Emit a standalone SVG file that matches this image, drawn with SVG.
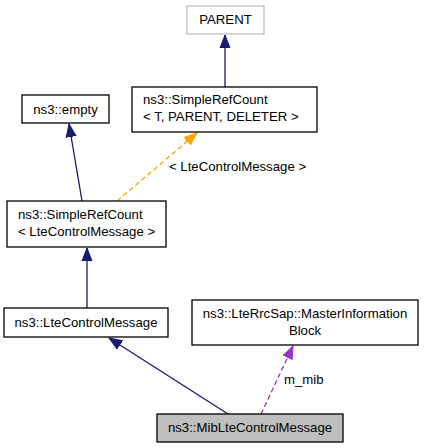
<svg xmlns="http://www.w3.org/2000/svg" width="424" height="448" viewBox="0 0 424 448">
<style>
text{font-family:"Liberation Sans",Arial,sans-serif;font-size:13.2px;fill:#000}
.box{fill:#fff;stroke:#000;stroke-width:1.3}
.gray{fill:#fff;stroke:#bfbfbf;stroke-width:1.3}
.cur{fill:#bfbfbf;stroke:#000;stroke-width:1.3}
.e{fill:none;stroke-width:1.3}
.blue{stroke:#191970}
.orange{stroke:#ffa500;stroke-dasharray:5,3}
.purple{stroke:#9a32cd;stroke-dasharray:5,3}
.m{text-anchor:middle}
</style>
<defs>
<marker id="ab" markerUnits="userSpaceOnUse" markerWidth="14" markerHeight="12" refX="13" refY="5" orient="auto" viewBox="0 0 14 10"><path d="M0,0 L13,5 L0,10 z" fill="#191970" stroke="#191970"/></marker>
<marker id="ao" markerUnits="userSpaceOnUse" markerWidth="14" markerHeight="12" refX="13" refY="5" orient="auto" viewBox="0 0 14 10"><path d="M0,0 L13,5 L0,10 z" fill="#ffa500" stroke="#ffa500"/></marker>
<marker id="ap" markerUnits="userSpaceOnUse" markerWidth="14" markerHeight="12" refX="13" refY="5" orient="auto" viewBox="0 0 14 10"><path d="M0,0 L13,5 L0,10 z" fill="#9a32cd" stroke="#9a32cd"/></marker>
</defs>
<g id="connectors">
<path class="e blue" d="M225,87 L225,35" marker-end="url(#ab)"/>
<path class="e blue" d="M82,201 L69,124" marker-end="url(#ab)"/>
<path class="e orange" d="M117,201 L197,133" marker-end="url(#ao)"/>
<text x="169" y="171">&lt; LteControlMessage &gt;</text>
<path class="e blue" d="M87,308 L87,248" marker-end="url(#ab)"/>
<path class="e blue" d="M228,414 L109,338" marker-end="url(#ab)"/>
<path class="e purple" d="M261,414 L293,346" marker-end="url(#ap)"/>
<text x="284" y="384">m_mib</text>
</g>
<g id="node-parent">
<rect class="gray" x="187" y="6" width="77" height="28"/>
<text class="m" x="225.5" y="24">PARENT</text>
</g>
<g id="node-simplerefcount-t">
<rect class="box" x="132" y="87" width="185" height="45"/>
<text x="143" y="104">ns3::SimpleRefCount</text>
<text x="143" y="121">&lt; T, PARENT, DELETER &gt;</text>
</g>
<g id="node-empty">
<rect class="box" x="22" y="95" width="87" height="28"/>
<text class="m" x="65.5" y="114">ns3::empty</text>
</g>
<g id="node-simplerefcount-lte">
<rect class="box" x="7" y="201" width="159" height="46"/>
<text x="18" y="219">ns3::SimpleRefCount</text>
<text x="18" y="236">&lt; LteControlMessage &gt;</text>
</g>
<g id="node-ltecontrolmessage">
<rect class="box" x="4" y="308" width="164" height="29"/>
<text class="m" x="86" y="327">ns3::LteControlMessage</text>
</g>
<g id="node-mib-struct">
<rect class="box" x="192" y="300" width="226" height="45"/>
<text class="m" x="305" y="318">ns3::LteRrcSap::MasterInformation</text>
<text class="m" x="305" y="335">Block</text>
</g>
<g id="node-miblte">
<rect class="cur" x="157" y="414" width="186" height="28"/>
<text class="m" x="250" y="432">ns3::MibLteControlMessage</text>
</g>
</svg>
